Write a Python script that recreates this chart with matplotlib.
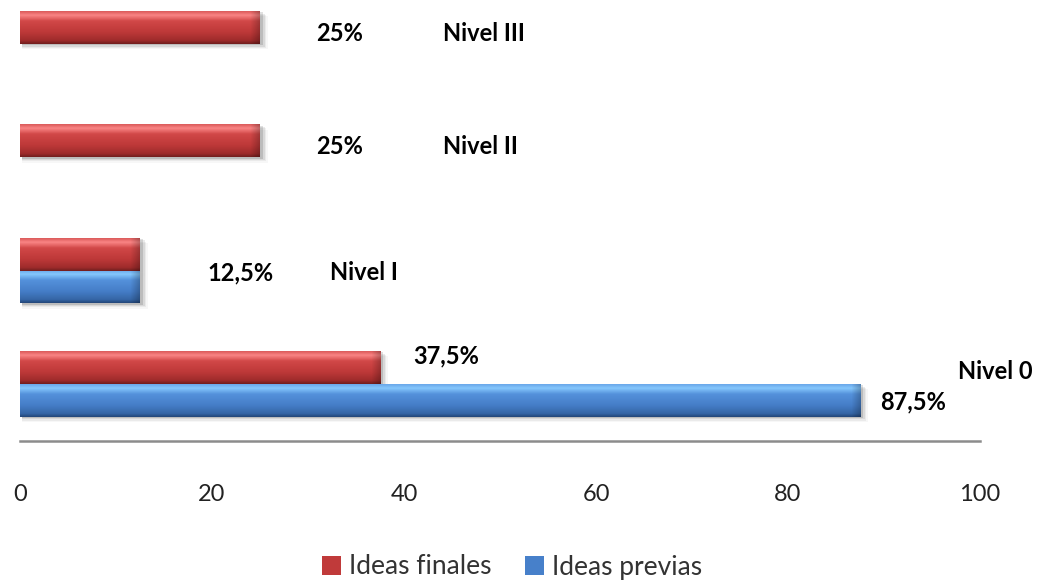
import numpy as np
import matplotlib
matplotlib.use("Agg")
import matplotlib.pyplot as plt
from matplotlib.patches import Patch, Rectangle
from matplotlib.colors import LinearSegmentedColormap

plt.rcParams['font.family'] = ['Lato', 'DejaVu Sans']

# Data
niveles = ["Nivel 0", "Nivel I", "Nivel II", "Nivel III"]
ideas_previas = [87.5, 12.5, 0, 0]
ideas_finales = [37.5, 12.5, 25, 25]
series_names = ["Ideas finales", "Ideas previas"]
xticks = [0, 20, 40, 60, 80, 100]

RED_STOPS = [(0.00, (0.86, 0.36, 0.36)), (0.12, (0.98, 0.52, 0.52)),
             (0.30, (0.82, 0.28, 0.28)), (0.65, (0.74, 0.22, 0.22)),
             (0.90, (0.62, 0.17, 0.17)), (1.00, (0.45, 0.12, 0.12))]
BLUE_STOPS = [(0.00, (0.42, 0.66, 0.92)), (0.12, (0.52, 0.78, 0.99)),
              (0.30, (0.33, 0.57, 0.86)), (0.65, (0.27, 0.49, 0.78)),
              (0.90, (0.21, 0.40, 0.65)), (1.00, (0.14, 0.28, 0.48))]
red_cmap = LinearSegmentedColormap.from_list("rojo", RED_STOPS)
blue_cmap = LinearSegmentedColormap.from_list("azul", BLUE_STOPS)

W, H, DPI = 1040, 583, 100
fig = plt.figure(figsize=(W / DPI, H / DPI), dpi=DPI)
fig.patch.set_facecolor("white")

# axes geometry in pixels (top-left origin)
x0_px, x1_px = 20, 980
yb_px, yt_px = 440.5, -12.8
ax = fig.add_axes([x0_px / W, (H - yb_px) / H, (x1_px - x0_px) / W, (yb_px - yt_px) / H])
ax.set_facecolor("none")
ax.set_xlim(0, 100)
ax.set_ylim(-0.5, 3.5)

y = np.arange(len(niveles))
bh = 0.29
bars_fin = ax.barh(y + bh / 2, ideas_finales, height=bh, color=red_cmap(0.6), zorder=2)
bars_pre = ax.barh(y - bh / 2, ideas_previas, height=bh, color=blue_cmap(0.6), zorder=2)

px_per_x = (x1_px - x0_px) / 100.0


def shade(bar_container, cmap):
    for p in bar_container.patches:
        bx, by, bw, bhh = p.get_x(), p.get_y(), p.get_width(), p.get_height()
        if bw <= 0:
            p.set_visible(False)
            continue
        # soft shadow under the bar
        for k, a in enumerate([0.12, 0.08, 0.05, 0.03]):
            off = (k + 1) * 0.012
            sh = Rectangle((bx + 0.2, by - off), bw + 0.15 * (k + 1), bhh,
                           facecolor="black", alpha=a, edgecolor="none", zorder=1)
            ax.add_patch(sh)
        ncol = max(int(bw * px_per_x), 2)
        nrow = 60
        t = np.linspace(0, 1, nrow)[:, None]
        img = cmap(np.repeat(t, ncol, axis=1))[..., :3]
        # darker bevel at the right end of the bar
        xs = np.arange(ncol)[None, :]
        edge = np.clip((xs - (ncol - 10)) / 10.0, 0, 1)
        img = img * (1 - 0.25 * edge[..., None])
        im = ax.imshow(img, extent=[bx, bx + bw, by, by + bhh], origin="upper",
                       aspect="auto", interpolation="bilinear", zorder=3)
        im.set_clip_path(p)


shade(bars_fin, red_cmap)
shade(bars_pre, blue_cmap)


def pct(v):
    return f"{v:g}%".replace(".", ",")


# value labels and level names
lab_kw = dict(textcoords="offset pixels", fontsize=17, fontweight="bold",
              color="black", va="center", ha="left", zorder=5)
# Nivel III and Nivel II
for i in (3, 2):
    v = ideas_finales[i]
    ax.annotate(pct(v), (v, i + bh / 2), xytext=(56, -6), **lab_kw)
    ax.annotate(niveles[i], (v, i + bh / 2), xytext=(183, -6), **lab_kw)
# Nivel I
v = ideas_finales[1]
ax.annotate(pct(v), (v, 1), xytext=(67, -2), **lab_kw)
ax.annotate(niveles[1], (v, 1), xytext=(190, -2), **lab_kw)
# Nivel 0
v = ideas_finales[0]
ax.annotate(pct(v), (v, bh / 2), xytext=(33, 11), **lab_kw)
v = ideas_previas[0]
ax.annotate(pct(v), (v, -bh / 2), xytext=(20, -2), **lab_kw)
ax.annotate(niveles[0], (v, 0), xytext=(98, 12), **lab_kw)

# axes styling
for s in ("top", "right", "left"):
    ax.spines[s].set_visible(False)
ax.spines["bottom"].set_color("#8c8c8c")
ax.spines["bottom"].set_linewidth(1.8)
ax.set_yticks([])
ax.set_xticks(xticks)
ax.set_xticklabels([str(t) for t in xticks])
ax.tick_params(axis="x", length=0, pad=31, labelsize=17, labelcolor="#222222")

handles = [Patch(facecolor=red_cmap(0.6), edgecolor="none"),
           Patch(facecolor=blue_cmap(0.6), edgecolor="none")]
fig.legend(handles, series_names, loc="center", bbox_to_anchor=(512 / W, (H - 567) / H),
           ncol=2, frameon=False, fontsize=19, handlelength=0.7, handleheight=0.7,
           handletextpad=0.3, columnspacing=1.3, labelcolor="#333333")

fig.savefig("out.png", dpi=DPI, facecolor="white")
